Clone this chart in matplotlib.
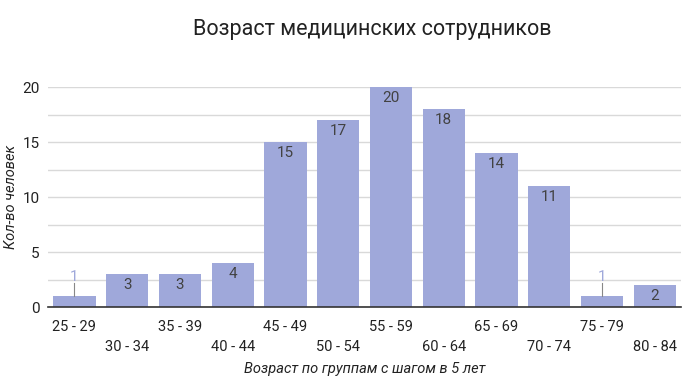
import matplotlib
matplotlib.use("Agg")
import matplotlib.pyplot as plt

plt.rcParams['font.family'] = ['Roboto', 'DejaVu Sans']

groups = ["25 - 29", "30 - 34", "35 - 39", "40 - 44", "45 - 49", "50 - 54",
          "55 - 59", "60 - 64", "65 - 69", "70 - 74", "75 - 79", "80 - 84"]
counts = [1, 3, 3, 4, 15, 17, 20, 18, 14, 11, 1, 2]

bar_color = "#9fa8da"
text_color = "#424242"

fig = plt.figure(figsize=(7, 3.84), dpi=100)
ax = fig.add_axes([0.0686, 0.2005, 0.9044, 0.5725])

x = list(range(len(groups)))
ax.bar(x, counts, width=0.8, color=bar_color, zorder=2)

ax.set_xlim(-0.5, len(groups) - 0.5)
ax.set_ylim(0, 20)
ax.set_yticks([0, 5, 10, 15, 20])
ax.set_yticks([2.5, 7.5, 12.5, 17.5], minor=True)
ax.grid(axis="y", which="both", color="#d9d9d9", linewidth=1, zorder=0)
ax.tick_params(axis="y", which="both", length=0, labelsize=11, colors="#222222", pad=6)
ax.set_xticks(x)
ax.set_xticklabels([("" if i % 2 == 0 else "\n") + g for i, g in enumerate(groups)],
                   fontsize=10.5, color="#222222", linespacing=1.6)
ax.tick_params(axis="x", length=0, pad=9)

for s in ["top", "right", "left"]:
    ax.spines[s].set_visible(False)
ax.spines["bottom"].set_color("#333333")
ax.spines["bottom"].set_linewidth(1.2)
ax.spines["bottom"].set_zorder(3)

for i, v in enumerate(counts):
    if v >= 2:
        ax.text(i, v - 0.35, str(v), ha="center", va="top", fontsize=11,
                color=text_color, zorder=3)
    else:
        ax.plot([i, i], [v, v + 1.2], color="#888888", linewidth=0.8, zorder=3)
        ax.text(i, v + 1.1, str(v), ha="center", va="bottom", fontsize=11,
                color=bar_color, zorder=3)

ax.set_ylabel("Кол-во человек", fontsize=10.5, style="italic", color="#222222")
ax.yaxis.set_label_coords(-0.047, 0.5)
ax.set_xlabel("Возраст по группам с шагом в 5 лет", fontsize=10.5, style="italic",
              color="#222222", labelpad=6)
fig.suptitle("Возраст медицинских сотрудников", x=0.532, y=0.95, fontsize=15.5,
             color="#222222")

fig.savefig("out.png", dpi=100)
